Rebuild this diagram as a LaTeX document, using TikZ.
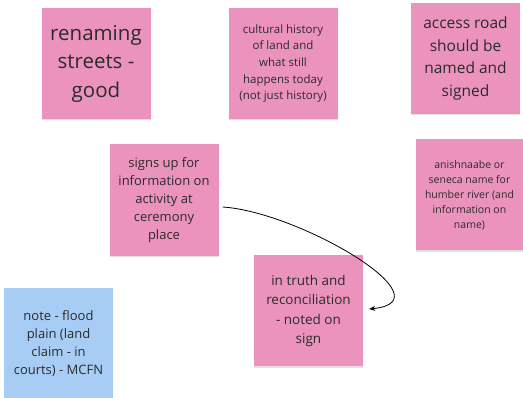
\documentclass[tikz,border=0pt]{standalone}
\usepackage{fontspec}
\setmainfont{Open Sans}
\usetikzlibrary{arrows.meta,shadows}
\definecolor{notepink}{HTML}{EB93BC}
\definecolor{noteblue}{HTML}{A7CDF5}
\definecolor{notetext}{HTML}{2B2B2B}

\begin{document}
\begin{tikzpicture}[x=1pt,y=-1pt,
		sticky/.style={fill=notepink, text=notetext, minimum width=109pt, minimum height=111pt,
			inner sep=0pt, align=center,
			drop shadow={shadow xshift=0pt, shadow yshift=-1.5pt, fill=black, opacity=0.12}},
		floodnote/.style={sticky, fill=noteblue}]
					\useasboundingbox (0,0) rectangle (523,398);

					% top row
					\node[sticky, font=\fontsize{20.5}{28.5}\selectfont] (renaming) at (96,63.5) {renaming\\streets -\\good};
					\node[sticky, font=\fontsize{11.5}{16.7}\selectfont] (cultural) at (283,63.5) {cultural history\\of land and\\what still\\happens today\\(not just history)};
					\node[sticky, font=\fontsize{15.5}{22.7}\selectfont] (access) at (465.5,58.5) {access road\\should be\\named and\\signed};

					% middle row
					\node[sticky, minimum height=112pt, font=\fontsize{13}{18}\selectfont] (signs) at (164,200) {signs up for\\information on\\activity at\\ceremony\\place};
					\node[sticky, minimum width=107pt, font=\fontsize{10.5}{15}\selectfont] (anishnaabe) at (469.5,195) {anishnaabe or\\seneca name for\\humber river (and\\information on\\name)};

					% bottom row
					\node[sticky, font=\fontsize{13.5}{19.3}\selectfont] (truth) at (308.5,311) {in truth and\\reconciliation\\- noted on\\sign};
					\node[floodnote, font=\fontsize{13}{18}\selectfont] (flood) at (58.5,344) {note - flood\\plain (land\\claim - in\\courts) - MCFN};

					% link from the signs note to the truth note
					\draw[line width=0.8pt, -{Stealth[length=6pt,width=5pt]}]
						([xshift=4pt,yshift=-7pt]signs.east) .. controls +(77,5) and +(81,-8) .. ([xshift=6pt,yshift=2pt]truth.east);
\end{tikzpicture}
\end{document}
